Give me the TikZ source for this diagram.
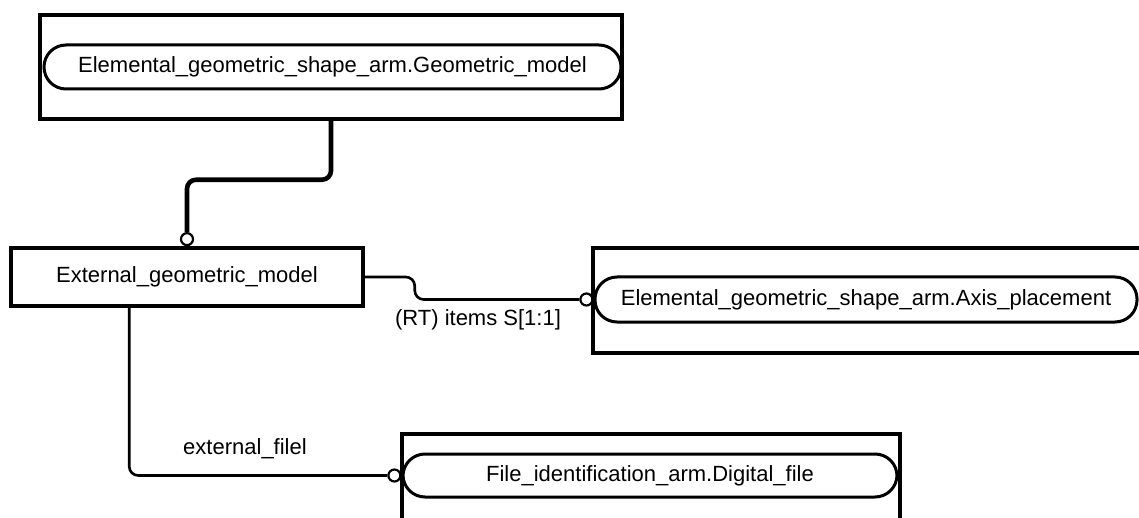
\documentclass[tikz,border=0pt]{standalone}
\usepackage{fontspec}
\setmainfont{Liberation Sans}
\usetikzlibrary{positioning}
\tikzset{
    x=1pt, y=-1pt, % coordinates
    every node/.style={font=\fontsize{22}{26}\selectfont}, % Arial-like labels
    box/.style={draw, line width=3.5pt, inner sep=0pt}, % outer frames
    pill/.style={draw, line width=3pt, rounded corners=22pt, fill=white, inner sep=0pt}, % entity references
    link/.style={line width=2.6pt, rounded corners=9pt}, % thin relations
    ring/.style={circle, draw, line width=2.2pt, fill=white, inner sep=0pt, minimum size=12pt}, % open end circle
}
\begin{document}
\begin{tikzpicture}
    \clip (0,0) rectangle (1139,518);
    \node[box, minimum width=582pt, minimum height=104pt] (g) at (331,67) {};
    \node[pill, minimum width=577pt, minimum height=44pt] (gm) at (332.5,67) {Elemental\_geometric\_shape\_arm.Geometric\_model};
    \node[box, minimum width=352pt, minimum height=58pt] (e) at (187,277) {External\_geometric\_model};
    \node[box, minimum width=607pt, minimum height=105pt] (a) at (896.5,300.5) {};
    \node[pill, minimum width=542pt, minimum height=45pt] (ap) at (866,299.5) {Elemental\_geometric\_shape\_arm.Axis\_placement};
    \node[box, minimum width=498pt, minimum height=126pt] (d) at (651,497) {};
    \node[pill, minimum width=494pt, minimum height=43pt] (dp) at (650,475.5) {File\_identification\_arm.Digital\_file};
    \node[ring, above=0pt of e] (c1) {};
    \node[ring, left=0pt of ap] (c2) {};
    \node[ring, left=0pt of dp] (c3) {};
    \draw[link, line width=4.6pt] (g.south) -- ++(0,59) -| (c1.north);
    \draw[link] (e.east) -- ++(50,0) |- (c2.west);
    \draw[link] ([xshift=120pt]e.south west) |- (c3.west);
    \node (rt) at (478,320) {(RT) items S[1:1]};
    \node (ef) at (245,449) {external\_filel};
\end{tikzpicture}
\end{document}
